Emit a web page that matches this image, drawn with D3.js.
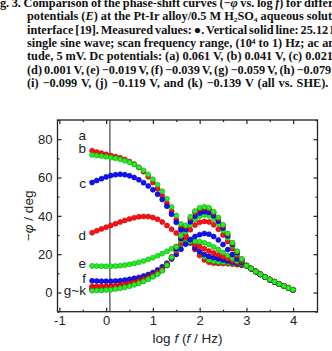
<!DOCTYPE html>
<html lang="en">
<head>
<meta charset="UTF-8">
<title>phase-shift curves</title>
<script src="https://cdn.jsdelivr.net/npm/d3@7"></script>
<style>
    body { margin: 0; background: #fff; }
    .caption text {
        font-family: "Liberation Serif", "Times New Roman", serif;
        font-weight: bold;
        font-size: 12.3px;
        fill: #111;
    }
    .axis text {
        font-family: "Liberation Sans", Arial, sans-serif;
        font-size: 13px;
        fill: #222;
    }
    .axis path { display: none; }
    .axis line { stroke: #222; stroke-width: 1.2; }
    .lab {
        font-family: "Liberation Sans", Arial, sans-serif;
        font-size: 13.5px;
        fill: #222;
    }
</style>
</head>
<body>
<script>
// log f values of the measured points
var logF = [-0.3, -0.2, -0.1, 0.0, 0.1, 0.2, 0.3, 0.4, 0.5, 0.6, 0.7, 0.8, 0.9,
    1.0, 1.1, 1.2, 1.3, 1.4, 1.5, 1.6, 1.7, 1.8, 1.9, 2.0, 2.1, 2.2, 2.3, 2.4,
    2.5, 2.6, 2.7, 2.8, 2.9, 3.0, 3.1, 3.2, 3.3, 3.4, 3.5, 3.6, 3.7, 3.8, 3.9, 4.0];

// -phi (deg) for each dc potential
var phiA = [74.0, 73.3, 72.7, 72.1, 71.5, 70.9, 70.3, 69.4, 68.3,
    67.0, 65.2, 63.0, 60.4, 57.4, 54.1, 50.5, 46.6, 42.4, 38.1, 33.8, 29.8, 26.0, 22.4,
    19.3, 17.0, 15.8, 15.3, 15.2, 15.1, 15.0, 14.8, 14.5, 14.2,
    14.0, 12.5, 11.0, 9.5, 8.1, 6.8, 5.6, 4.5, 3.4, 2.4, 1.4];
var phiB = [71.8, 71.5, 71.2, 70.8, 70.4, 70.0, 69.5, 68.8, 67.9,
    66.8, 65.4, 63.7, 61.6, 59.1, 56.2, 52.8, 48.9, 44.6, 40.2, 35.8, 31.6, 27.8, 24.4,
    21.2, 18.6, 17.0, 16.3, 16.0, 15.8, 15.6, 15.3, 14.9, 14.5,
    14.1, 12.6, 11.1, 9.6, 8.2, 6.8, 5.6, 4.5, 3.4, 2.4, 1.4];
var phiC = [57.4, 58.4, 59.4, 60.3, 61.0, 61.5, 61.7, 61.5, 60.9,
    60.0, 58.8, 57.3, 55.6, 53.6, 51.3, 48.5, 45.0, 40.8, 36.6, 32.6, 29.0, 25.9, 23.3,
    21.3, 19.8, 18.8, 18.2, 17.6, 17.0, 16.4, 15.8, 15.1, 14.5,
    14.0, 12.5, 11.0, 9.5, 8.1, 6.7, 5.5, 4.4, 3.4, 2.4, 1.4];
var phiD = [31.2, 32.2, 33.2, 34.1, 35.0, 35.9, 36.8, 37.6, 38.4,
    39.0, 39.5, 39.7, 39.6, 39.1, 38.2, 36.8, 35.0, 33.0, 31.0, 29.2, 27.6, 26.2, 25.0,
    24.0, 22.8, 21.6, 20.6, 19.6, 18.6, 17.6, 16.6, 15.6, 14.7,
    14.0, 12.5, 11.0, 9.5, 8.1, 6.8, 5.6, 4.5, 3.4, 2.4, 1.4];
var phiE = [13.9, 13.8, 13.7, 13.7, 13.7, 13.8, 14.0, 14.3, 14.7,
    15.2, 15.8, 16.5, 17.3, 18.2, 19.2, 20.3, 21.5, 22.8, 24.0, 25.0, 25.9, 26.5, 26.8,
    26.6, 26.0, 25.0, 23.8, 22.4, 20.9, 19.3, 17.8, 16.4, 15.1,
    14.1, 12.6, 11.1, 9.6, 8.1, 6.8, 5.6, 4.5, 3.4, 2.4, 1.4];
var phiF = [6.1, 6.0, 5.9, 5.9, 5.9, 6.0, 6.2, 6.5, 6.9,
    7.4, 7.9, 8.6, 9.4, 10.4, 11.8, 13.4, 15.3, 17.5, 19.9, 22.6, 25.2, 27.5, 29.2,
    30.2, 30.8, 30.4, 29.2, 27.4, 25.0, 22.4, 19.8, 17.5, 15.6,
    14.0, 12.4, 10.9, 9.4, 8.0, 6.7, 5.5, 4.4, 3.3, 2.3, 1.3];
var phiG = [3.2, 3.2, 3.2, 3.3, 3.4, 3.6, 3.9, 4.3, 4.8,
    5.4, 6.1, 6.9, 7.9, 9.0, 10.4, 12.1, 14.4, 17.6, 21.6, 25.8, 29.6, 32.8, 35.2,
    36.6, 37.1, 36.8, 35.3, 33.0, 30.0, 26.6, 22.9, 19.3, 16.3,
    14.0, 12.5, 11.0, 9.5, 8.1, 6.8, 5.6, 4.5, 3.4, 2.4, 1.4];
var phiH = [1.8, 1.8, 1.9, 2.0, 2.2, 2.5, 2.9, 3.4, 4.0,
    4.7, 5.5, 6.4, 7.5, 8.7, 10.1, 11.8, 14.2, 17.8, 22.4, 27.2, 31.6, 35.3, 38.1,
    39.8, 40.5, 40.0, 38.3, 35.7, 32.3, 28.4, 24.2, 20.2, 16.8,
    14.1, 12.5, 11.0, 9.5, 8.1, 6.8, 5.6, 4.5, 3.4, 2.4, 1.4];
var phiI = [1.6, 1.6, 1.7, 1.8, 2.0, 2.3, 2.7, 3.2, 3.8,
    4.5, 5.3, 6.2, 7.3, 8.5, 9.9, 11.6, 14.1, 18.0, 22.9, 28.1, 32.9, 36.9, 39.8,
    41.5, 42.2, 41.8, 40.0, 37.2, 33.6, 29.5, 25.0, 20.8, 17.1,
    14.0, 12.4, 10.9, 9.4, 8.0, 6.7, 5.5, 4.4, 3.3, 2.3, 1.3];
var phiJ = [2.4, 2.4, 2.5, 2.6, 2.8, 3.0, 3.4, 3.8, 4.4,
    5.0, 5.8, 6.7, 7.7, 8.9, 10.3, 12.0, 14.6, 18.6, 23.8, 29.4, 34.5, 38.8, 41.8,
    43.6, 44.2, 43.6, 41.6, 38.6, 34.8, 30.4, 25.7, 21.3, 17.4,
    14.1, 12.5, 11.0, 9.5, 8.1, 6.8, 5.6, 4.5, 3.4, 2.4, 1.4];
var phiK = [0.9, 1.0, 1.1, 1.3, 1.5, 1.8, 2.2, 2.7, 3.3,
    4.0, 4.8, 5.8, 6.9, 8.2, 9.6, 11.4, 14.2, 18.4, 23.8, 29.6, 35.0, 39.5, 42.5,
    44.2, 44.7, 44.2, 42.2, 39.2, 35.3, 30.8, 26.0, 21.5, 17.5,
    14.0, 12.5, 11.0, 9.5, 8.1, 6.8, 5.6, 4.5, 3.4, 2.4, 1.4];

var seriesNames = ["a", "b", "c", "d", "e", "f", "g", "h", "i", "j", "k"];
var seriesValues = [phiA, phiB, phiC, phiD, phiE, phiF, phiG, phiH, phiI, phiJ, phiK];

// curve labels at the left end (text, baseline value in deg)
var labelText = ["a", "b", "c", "d", "e", "f", "g~k"];
var labelPhi = [79.6, 72.8, 54.6, 27.6, 12.9, 5.1, -1.3];

var xTicks = [-1, 0, 1, 2, 3, 4];
var yTicks = [0, 20, 40, 60, 80];
var markerLogF = 0.08;   // vertical solid line

// caption lines, *...* = italic
var caption = [
    "Fig. 3. Comparison of the phase-shift curves (\u2212*\u03c6* vs. log *f*) for different",
    "potentials (*E*) at the Pt-Ir alloy/0.5 M H\u2082SO\u2084 aqueous solution",
    "interface [19]. Measured values: \u25cf. Vertical solid line: 25.12 Hz",
    "single sine wave; scan frequency range, (10\u2074 to 1) Hz; ac ampli-",
    "tude, 5 mV. Dc potentials: (a) 0.061 V, (b) 0.041 V, (c) 0.021 V,",
    "(d) 0.001 V, (e) \u22120.019 V, (f) \u22120.039 V, (g) \u22120.059 V, (h) \u22120.079 V,",
    "(i) \u22120.099 V, (j) \u22120.119 V, and (k) \u22120.139 V (all vs. SHE)."
];
// justified text: extra space between words on each line
var captionWordSpace = [-0.5, 0, -1.2, 0, 0, -1.0, 0.9];

var width = 332, height = 351;
var svg = d3.select("body").append("svg")
    .attr("width", width)
    .attr("height", height);

// caption
var cap = svg.append("g").attr("class", "caption");
caption.forEach(function (line, i) {
    var t = cap.append("text")
        .attr("x", i === 0 ? -11 : 27)
        .attr("y", 6.8 + i * 13.35)
        .attr("word-spacing", captionWordSpace[i]);
    line.split("*").forEach(function (part, j) {
        t.append("tspan")
            .attr("font-style", j % 2 ? "italic" : null)
            .text(part);
    });
});

var x = d3.scaleLinear().domain([-1.04, 4.52]).range([57.5, 317.5]);
var y = d3.scaleLinear().domain([-10, 90]).range([311.7, 120]);
var minorX = [-0.5, 0.5, 1.5, 2.5, 3.5];
var minorY = [-10, 10, 30, 50, 70, 90];

// ticks (all inward)
svg.append("g").attr("class", "axis")
    .attr("transform", "translate(0," + y(-10) + ")")
    .call(d3.axisBottom(x).tickValues(xTicks).tickSize(-4).tickPadding(4)
        .tickFormat(function (d) { return String(d); }));
svg.append("g").attr("class", "axis")
    .attr("transform", "translate(0," + y(-10) + ")")
    .call(d3.axisBottom(x).tickValues(minorX).tickSize(-2).tickFormat(""));
svg.append("g").attr("class", "axis")
    .attr("transform", "translate(0," + y(90) + ")")
    .call(d3.axisTop(x).tickValues(xTicks).tickSize(-4).tickFormat(""));
svg.append("g").attr("class", "axis")
    .attr("transform", "translate(0," + y(90) + ")")
    .call(d3.axisTop(x).tickValues(minorX).tickSize(-2).tickFormat(""));

svg.append("g").attr("class", "axis")
    .attr("transform", "translate(" + x.range()[0] + ",0)")
    .call(d3.axisLeft(y).tickValues(yTicks).tickSize(-4).tickPadding(5)
        .tickFormat(function (d) { return String(d); }));
svg.append("g").attr("class", "axis")
    .attr("transform", "translate(" + x.range()[0] + ",0)")
    .call(d3.axisLeft(y).tickValues(minorY).tickSize(-2).tickFormat(""));
svg.append("g").attr("class", "axis")
    .attr("transform", "translate(" + x.range()[1] + ",0)")
    .call(d3.axisRight(y).tickValues(yTicks).tickSize(-4).tickFormat(""));
svg.append("g").attr("class", "axis")
    .attr("transform", "translate(" + x.range()[1] + ",0)")
    .call(d3.axisRight(y).tickValues(minorY).tickSize(-2).tickFormat(""));

// vertical solid line
svg.append("line")
    .attr("x1", x(markerLogF)).attr("x2", x(markerLogF))
    .attr("y1", y(90)).attr("y2", y(-10))
    .attr("stroke", "#6a6a6a")
    .attr("stroke-width", 1.5);

// measured points
var fills = { red: "#ff1010", green: "#22f022", blue: "#1010ff" };
var strokes = { red: "#c00000", green: "#10a010", blue: "#0000a8" };
var colorOf = ["red", "green", "blue"];

seriesValues.forEach(function (vals, si) {
    var c = colorOf[si % 3];
    svg.append("g")
        .attr("class", "series-" + seriesNames[si])
        .selectAll("circle")
        .data(vals)
        .enter()
        .append("circle")
        .attr("cx", function (d, i) { return x(logF[i]); })
        .attr("cy", function (d) { return y(d); })
        .attr("r", 2.5)
        .attr("fill", fills[c])
        .attr("stroke", strokes[c])
        .attr("stroke-width", 0.6);
});

// frame
svg.append("rect")
    .attr("x", x.range()[0]).attr("y", y(90))
    .attr("width", x.range()[1] - x.range()[0])
    .attr("height", y(-10) - y(90))
    .attr("fill", "none")
    .attr("stroke", "#222")
    .attr("stroke-width", 1.3);

// curve labels
svg.selectAll(".lab")
    .data(labelText)
    .enter()
    .append("text")
    .attr("class", "lab")
    .attr("x", x(-0.43))
    .attr("y", function (d, i) { return y(labelPhi[i]); })
    .attr("text-anchor", "end")
    .text(function (d) { return d; });

// axis titles
var xt = svg.append("text").attr("class", "lab")
    .attr("x", (x.range()[0] + x.range()[1]) / 2)
    .attr("y", 343)
    .attr("text-anchor", "middle");
xt.append("tspan").text("log ");
xt.append("tspan").attr("font-style", "italic").text("f");
xt.append("tspan").text(" (");
xt.append("tspan").attr("font-style", "italic").text("f");
xt.append("tspan").text(" / Hz)");

var yt = svg.append("text").attr("class", "lab")
    .attr("transform", "translate(33," + (y(90) + y(-10)) / 2 + ") rotate(-90)")
    .attr("text-anchor", "middle");
yt.append("tspan").text("\u2212");
yt.append("tspan").attr("font-style", "italic").text("\u03c6");
yt.append("tspan").text(" / deg");
</script>
</body>
</html>
